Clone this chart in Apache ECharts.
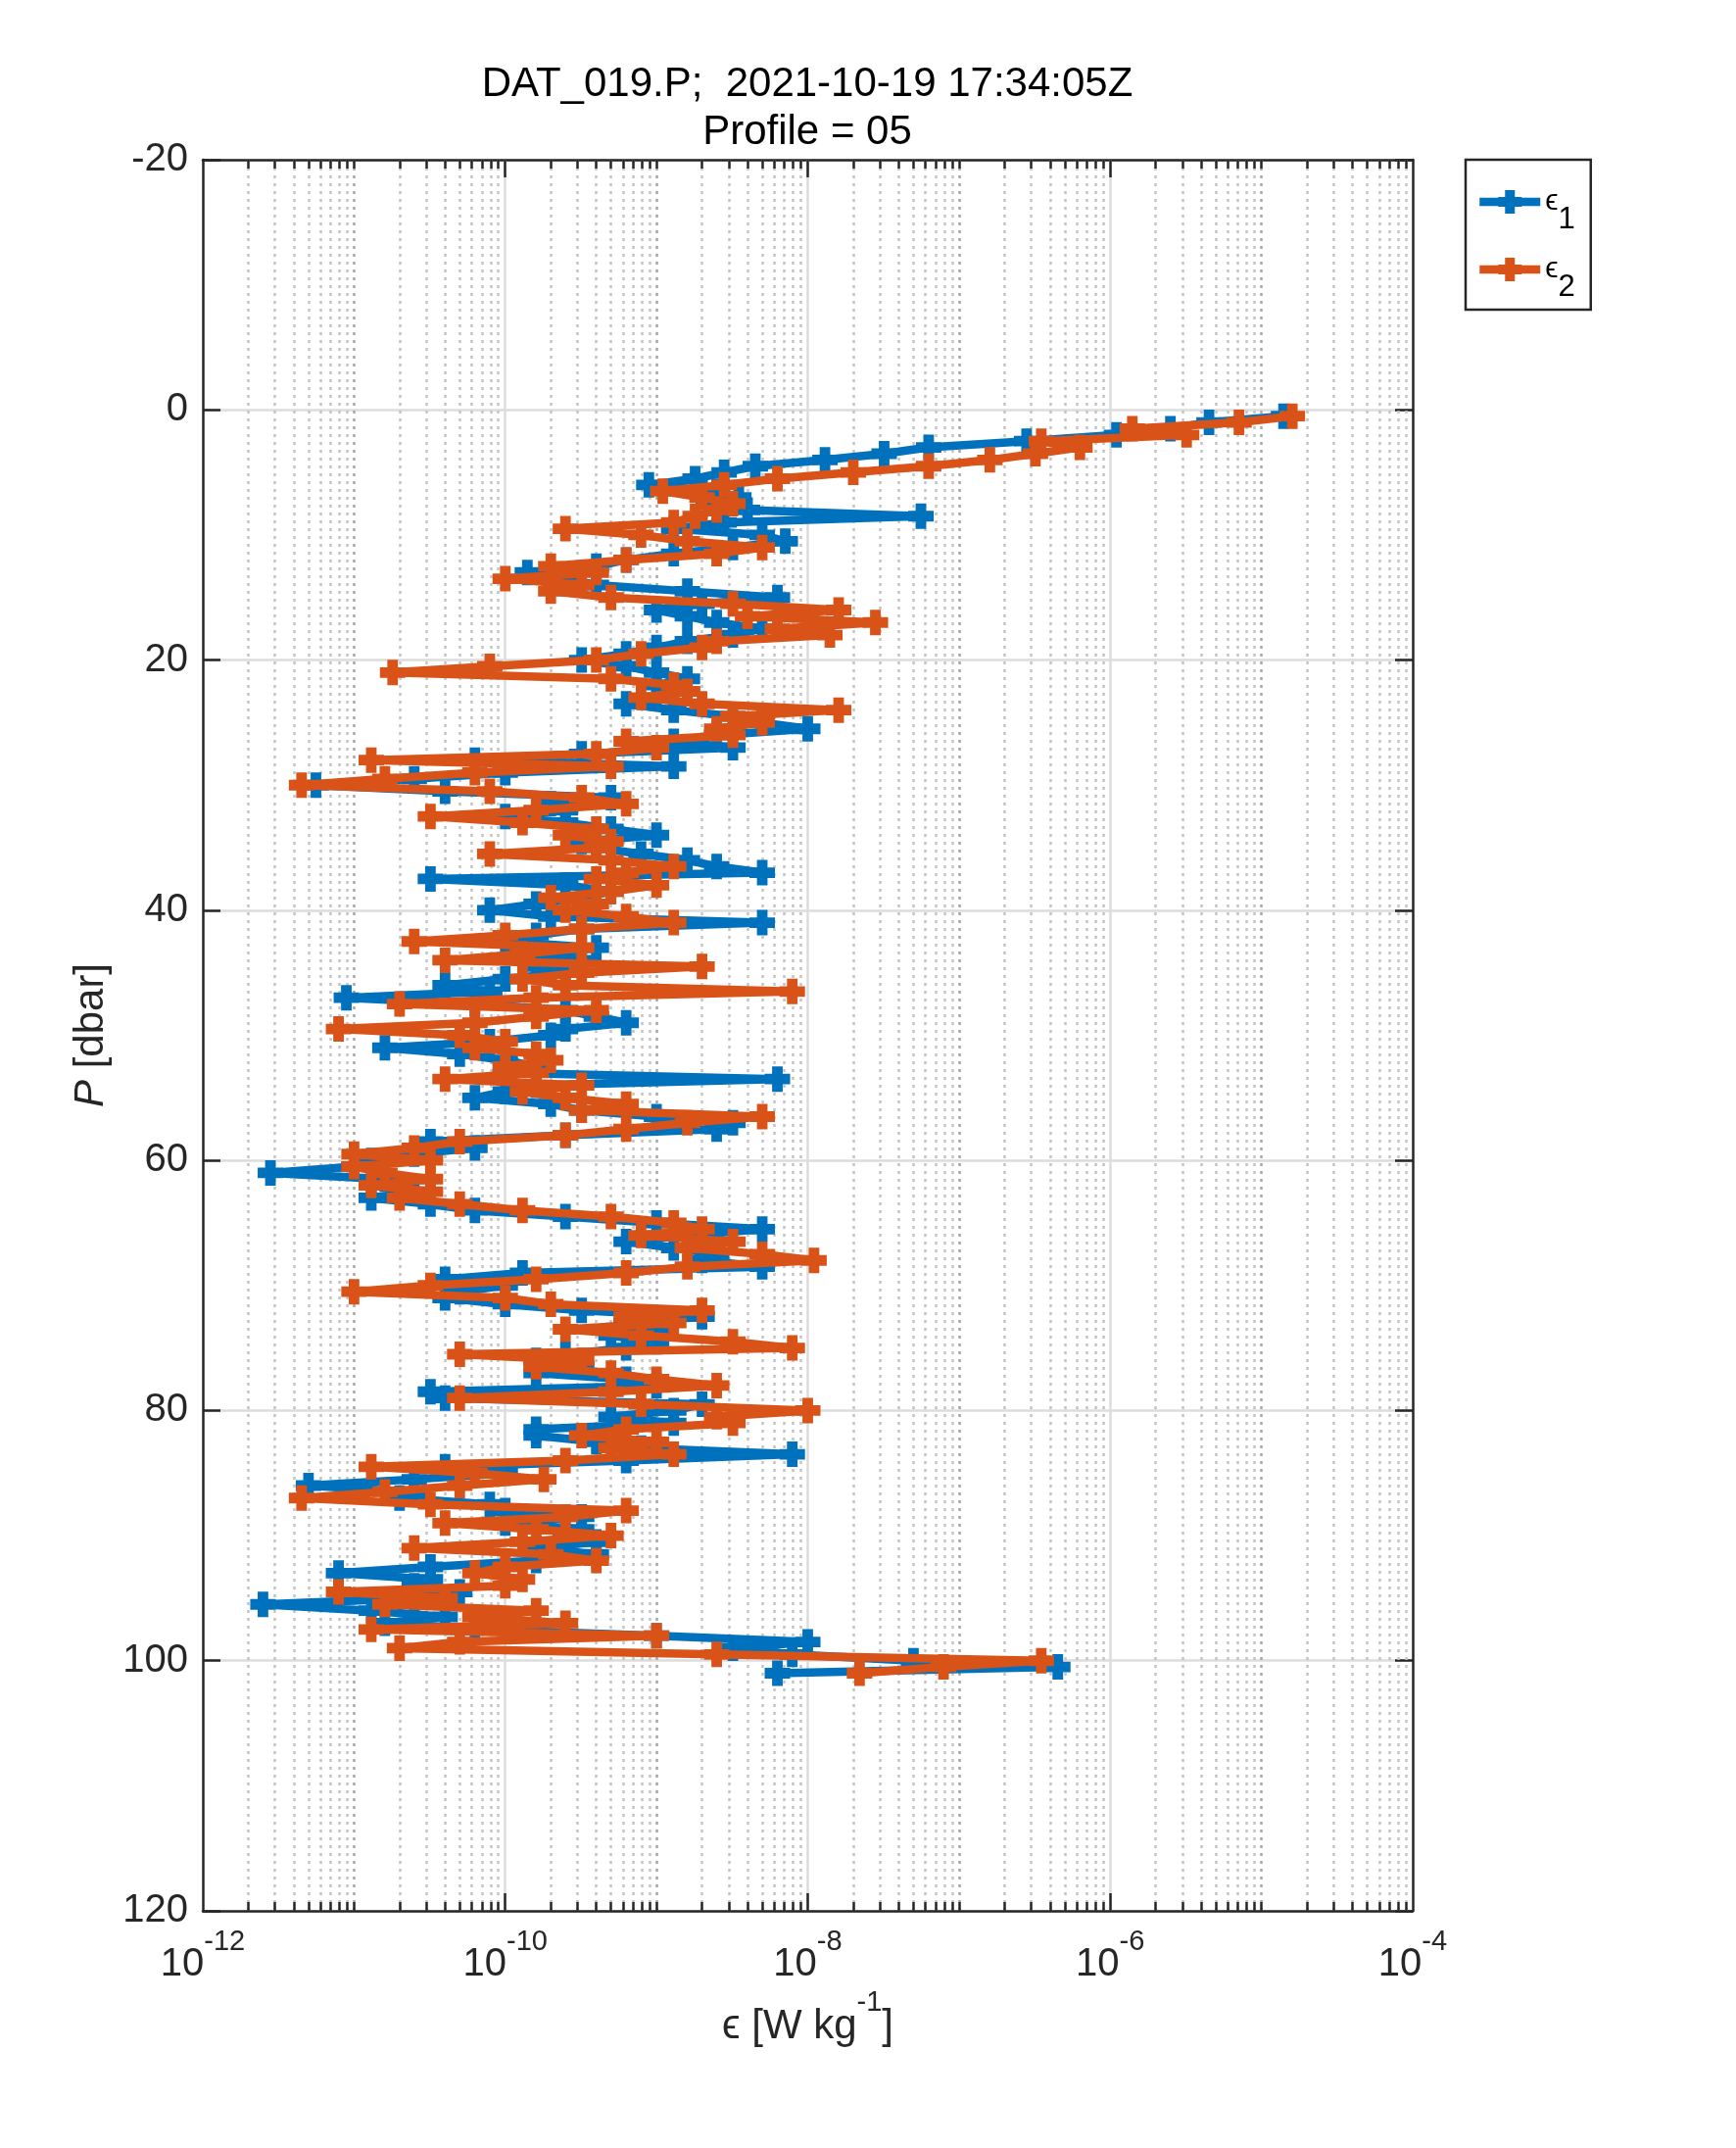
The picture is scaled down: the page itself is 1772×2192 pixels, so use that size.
<!DOCTYPE html>
<html><head><meta charset="utf-8">
<script src="https://cdn.jsdelivr.net/npm/echarts@6/dist/echarts.min.js"></script>
<style>html,body{margin:0;padding:0;background:#fff}#c{width:1772px;height:2192px}</style>
</head><body><div id="c"></div>
<script>
const pressure = [
0.5,1,1.5,2,2.5,3,3.5,4,4.5,5,
5.5,6,6.5,7,7.5,8,8.5,9,9.5,10,
10.5,11,11.5,12,12.5,13,13.5,14,14.5,15,
15.5,16,16.5,17,17.5,18,18.5,19,19.5,20,
20.5,21,21.5,22,22.5,23,23.5,24,24.5,25,
25.5,26,26.5,27,27.5,28,28.5,29,29.5,30,
30.5,31,31.5,32,32.5,33,33.5,34,34.5,35,
35.5,36,36.5,37,37.5,38,38.5,39,39.5,40,
40.5,41,41.5,42,42.5,43,43.5,44,44.5,45,
45.5,46,46.5,47,47.5,48,48.5,49,49.5,50,
50.5,51,51.5,52,52.5,53,53.5,54,54.5,55,
55.5,56,56.5,57,57.5,58,58.5,59,59.5,60,
60.5,61,61.5,62,62.5,63,63.5,64,64.5,65,
65.5,66,66.5,67,67.5,68,68.5,69,69.5,70,
70.5,71,71.5,72,72.5,73,73.5,74,74.5,75,
75.5,76,76.5,77,77.5,78,78.5,79,79.5,80,
80.5,81,81.5,82,82.5,83,83.5,84,84.5,85,
85.5,86,86.5,87,87.5,88,88.5,89,89.5,90,
90.5,91,91.5,92,92.5,93,93.5,94,94.5,95,
95.5,96,96.5,97,97.5,98,98.5,99,99.5,100,
100.5,101];

const eps1 = [
1.4e-5,4.5e-6,2.5e-6,1.1e-6,2.8e-7,6.3e-8,3.2e-8,1.3e-8,4.5e-9,2.8e-9,
1.8e-9,8.9e-10,2.5e-9,3.5e-9,2.2e-9,4e-9,5.6e-8,2.8e-9,1.3e-9,5e-9,
7.1e-9,3.2e-9,1.3e-9,6.3e-10,4e-10,1.4e-10,2.5e-10,4e-10,1.6e-9,6.3e-9,
2e-9,1e-9,1.6e-9,2.5e-9,5e-9,3.2e-9,1.6e-9,1e-9,6.3e-10,3.2e-10,
6.3e-10,1e-9,1.6e-9,1e-9,1.6e-9,1e-9,6.3e-10,1.3e-9,3.2e-9,5e-9,
1e-8,2.5e-9,1.3e-9,3.2e-9,3.2e-10,6.3e-11,1.3e-9,1e-10,2.5e-11,5.6e-12,
4e-11,5e-10,2e-10,2.5e-10,1e-10,2.5e-10,5e-10,1e-9,3.2e-10,4e-10,
7.9e-10,1.6e-9,2.5e-9,5e-9,3.2e-11,2.5e-10,5e-10,3.2e-10,1.6e-10,7.9e-11,
2e-10,5e-9,3.2e-10,1.6e-10,1e-10,4e-10,2e-10,3.2e-10,1.6e-10,2.5e-10,
1e-10,4e-11,7.9e-11,8.9e-12,6.3e-11,2.5e-10,4e-10,6.3e-10,2.5e-10,2e-10,
7.9e-11,1.6e-11,5e-11,1e-10,1.6e-10,1e-10,6.3e-9,1.6e-10,1e-10,6.3e-11,
2e-10,3.2e-10,1e-9,3.2e-9,2.5e-9,2.5e-10,3.2e-11,6.3e-11,2.5e-11,1.3e-11,
1e-11,2.8e-12,1.6e-11,1.3e-11,2.5e-11,1.3e-11,3.2e-11,6.3e-11,2.5e-10,1e-9,
5e-9,1.6e-9,6.3e-10,1.3e-9,2.5e-9,2e-9,5e-9,1.3e-10,4e-11,1e-10,
5e-11,4e-11,1e-10,3.2e-10,2e-9,6.3e-10,1e-9,5e-10,1e-9,6.3e-10,
2.5e-10,1.6e-10,3.2e-10,1.6e-10,6.3e-10,1e-9,3.2e-11,4e-11,2e-9,1.3e-9,
5e-10,1.3e-9,1.6e-10,1.6e-10,4e-10,7.9e-10,7.9e-9,6.3e-10,4e-11,1e-10,
2.5e-11,5e-12,2.5e-11,2e-11,7.9e-11,1e-10,3.2e-10,1e-10,3.2e-10,2.5e-10,
4e-10,1.6e-10,4e-10,1.6e-10,3.2e-11,7.9e-12,3.2e-11,2.5e-11,5e-11,2.5e-11,
2.5e-12,1.3e-11,4e-11,1.6e-11,6.3e-11,1e-9,1e-8,3.2e-9,7.9e-9,5e-8,
4.5e-7,6.3e-9];

const eps2 = [
1.6e-5,7.1e-6,1.4e-6,3.2e-6,3.5e-7,6.3e-7,3.2e-7,1.6e-7,6.3e-8,2e-8,
6.3e-9,2.8e-9,1.1e-9,2e-9,3.2e-9,2.5e-9,1.8e-9,1.3e-9,2.5e-10,7.9e-10,
1.6e-9,5e-9,2.5e-9,6.3e-10,2e-10,4e-10,1e-10,3.2e-10,2e-10,5e-10,
3.2e-9,1.6e-8,4e-9,2.8e-8,6.3e-9,1.4e-8,2.5e-9,2e-9,7.9e-10,4e-10,
7.9e-11,1.8e-11,5e-10,1.3e-9,1.6e-9,7.9e-10,2e-9,1.6e-8,3.2e-9,5e-9,
2.5e-9,3.2e-9,6.3e-10,1e-9,4e-10,1.3e-11,5e-10,6.3e-11,1.6e-11,4.5e-12,
7.9e-11,3.2e-10,6.3e-10,1.6e-10,3.2e-11,1.3e-10,4e-10,2.5e-10,5e-10,4e-10,
7.9e-11,5e-10,1.3e-9,6.3e-10,4e-10,1e-9,5e-10,2e-10,4e-10,2.5e-10,
6.3e-10,1.3e-9,3.2e-10,1e-10,2.5e-11,3.2e-10,1.3e-10,4e-11,2e-9,3.2e-10,
1.3e-10,2.5e-10,7.9e-9,1.6e-10,2e-11,4e-10,1.6e-10,6.3e-11,7.9e-12,5e-11,
1e-10,6.3e-11,1.6e-10,2e-10,1e-10,1.6e-10,4e-11,3.2e-10,1.3e-10,2.5e-10,
6.3e-10,3.2e-10,5e-9,1.6e-9,6.3e-10,2.5e-10,5e-11,2.5e-11,1e-11,3.2e-11,
1e-11,1.6e-11,3.2e-11,1.3e-11,3.2e-11,2e-11,5e-11,1.3e-10,5e-10,1.3e-9,
2e-9,7.9e-10,3.2e-9,1.6e-9,5e-9,1.1e-8,1.6e-9,6.3e-10,1.6e-10,3.2e-11,
1e-11,1e-10,2e-10,2e-9,6.3e-10,1.3e-9,2.5e-10,7.9e-10,3.2e-9,7.9e-9,
5e-11,3.2e-10,1.6e-10,5e-10,1e-9,2.5e-9,5e-10,5e-11,7.9e-10,1e-8,
2.5e-9,3.2e-9,6.3e-10,3.2e-10,1e-9,5e-10,1.3e-9,2.5e-10,1.3e-11,6.3e-11,
1.8e-10,5e-11,1.6e-11,4.5e-12,3.2e-11,6.3e-10,2.5e-10,4e-11,1.6e-10,5e-10,
1.3e-10,2.5e-11,2e-10,4e-10,1e-10,6.3e-11,1.3e-10,1e-10,7.9e-12,4e-11,
1.6e-11,1.6e-10,6.3e-11,2.5e-10,1.3e-11,1e-9,5e-11,2e-11,2.5e-9,3.5e-7,
7.9e-8,2.2e-8];

const seriesNames = ['eps1', 'eps2'];
const legendLabels = ['{e|ϵ}{s|1}', '{e|ϵ}{s|2}'];
const titleLines = ['DAT_019.P;  2021-10-19 17:34:05Z', 'Profile = 05'];
const xDecades = [-12, -11, -10, -9, -8, -7, -6, -5, -4];
const yTicks = [-20, 0, 20, 40, 60, 80, 100, 120];

const FONT = '"Liberation Sans", Arial, Helvetica, sans-serif';
const AX = '#262626';
const C1 = '#0072BD', C2 = '#D95319';
const PLUS = 'path://M7,0h10v7h7v10h-7v7h-10v-7h-7v-10h7z';
const yMin = yTicks[0], yMax = yTicks[yTicks.length - 1];

// vertical grid + x tick marks (MATLAB-style log minor grid)
const gridData = [], tickData = [];
const pxPerDbar = 1787 / (yMax - yMin);
const tickMajLen = 18 / pxPerDbar, tickMinLen = 9 / pxPerDbar;
for (let i = 0; i < xDecades.length - 1; i++) {
  const e = xDecades[i];
  for (let m = 1; m <= 9; m++) {
    const v = m * Math.pow(10, e);
    const isMajor = (m === 1 && e % 2 === 0);
    if (m === 1 && e === xDecades[0]) continue;
    const gs = isMajor
      ? {color: '#dcdcdc', width: 2.5, type: 'solid'}
      : {color: m === 1 ? '#a6a6a6' : '#c4c4c4', width: 2.5, type: [3, 5]};
    gridData.push([{coord: [v, yMin], lineStyle: gs}, {coord: [v, yMax]}]);
    const len = isMajor ? tickMajLen : tickMinLen;
    const ts = {color: AX, width: 2.5, type: 'solid'};
    tickData.push([{coord: [v, yMax], lineStyle: ts}, {coord: [v, yMax - len]}]);
    tickData.push([{coord: [v, yMin], lineStyle: ts}, {coord: [v, yMin + len]}]);
  }
}

const chart = echarts.init(document.getElementById('c'), null, {renderer: 'canvas'});
const mk = (arr) => arr.map((v, i) => [v, pressure[i]]);

chart.setOption({
  animation: false,
  backgroundColor: '#fff',
  textStyle: {fontFamily: FONT},
  title: {
    text: titleLines.join('\n'),
    left: 824, top: 62, textAlign: 'center', padding: 0,
    textStyle: {fontSize: 42, fontWeight: 'normal', color: '#000', fontFamily: FONT, lineHeight: 49}
  },
  grid: {left: 207, right: 330, top: 163, bottom: 242, containLabel: false},
  legend: {
    data: seriesNames,
    orient: 'vertical',
    left: 1496, top: 163,
    padding: [28, 16, 7, 10],
    itemWidth: 62, itemHeight: 30, itemGap: 20,
    borderColor: AX, borderWidth: 2.5, borderRadius: 0,
    backgroundColor: '#fff',
    lineStyle: {width: 8.5},
    formatter: (n) => legendLabels[seriesNames.indexOf(n)],
    textStyle: {
      color: '#000', fontFamily: FONT,
      rich: {
        e: {fontSize: 30, lineHeight: 68, verticalAlign: 'middle', color: '#000', fontFamily: FONT},
        s: {fontSize: 31, lineHeight: 32, verticalAlign: 'bottom', color: '#000', fontFamily: FONT}
      }
    }
  },
  xAxis: [{
    type: 'log', logBase: 10, min: 1e-12, max: 1e-4, position: 'bottom',
    axisLine: {show: true, onZero: false, lineStyle: {color: AX, width: 2.5}},
    axisTick: {show: false}, splitLine: {show: false},
    axisLabel: {
      margin: 17, color: AX,
      formatter: (v) => { const e = Math.round(Math.log10(v)); return (e % 2 === 0) ? '{b|10}{p|' + e + '}' : ''; },
      rich: {
        b: {fontSize: 40, lineHeight: 58, verticalAlign: 'bottom', color: AX, fontFamily: FONT},
        p: {fontSize: 29, lineHeight: 29, verticalAlign: 'top', color: AX, fontFamily: FONT}
      }
    },
    name: '{t|ϵ [W kg}{s|-1}{t|]}', nameLocation: 'middle', nameGap: 78,
    nameTextStyle: {
      rich: {
        t: {fontSize: 42, lineHeight: 60, verticalAlign: 'bottom', color: AX, fontFamily: FONT},
        s: {fontSize: 29, lineHeight: 29, verticalAlign: 'top', color: AX, fontFamily: FONT}
      }
    }
  }, {
    type: 'log', logBase: 10, min: 1e-12, max: 1e-4, position: 'top',
    axisLine: {show: true, onZero: false, lineStyle: {color: AX, width: 2.5}},
    axisTick: {show: false}, axisLabel: {show: false}, splitLine: {show: false}
  }],
  yAxis: [{
    type: 'value', inverse: true, min: yMin, max: yMax, interval: 20, position: 'left',
    axisLine: {show: true, onZero: false, lineStyle: {color: AX, width: 2.5}},
    axisTick: {show: true, inside: true, length: 18, lineStyle: {color: AX, width: 2.5}},
    axisLabel: {margin: 15, fontSize: 40, color: AX, fontFamily: FONT},
    splitLine: {show: true, lineStyle: {color: '#dcdcdc', width: 2.5}},
    name: '{i|P} [dbar]', nameLocation: 'middle', nameGap: 86,
    nameTextStyle: {fontSize: 42, color: AX, fontFamily: FONT,
      rich: {i: {fontStyle: 'italic', fontSize: 42, color: AX, fontFamily: FONT}}}
  }, {
    type: 'value', inverse: true, min: yMin, max: yMax, interval: 20, position: 'right',
    axisLine: {show: true, onZero: false, lineStyle: {color: AX, width: 2.5}},
    axisTick: {show: true, inside: true, length: 18, lineStyle: {color: AX, width: 2.5}},
    axisLabel: {show: false}, splitLine: {show: false}
  }],
  series: [{
    type: 'line', name: 'grid', data: [], z: 1, silent: true, symbol: 'none',
    markLine: {z: 1, silent: true, symbol: ['none', 'none'], label: {show: false}, animation: false, data: gridData}
  }, {
    type: 'line', name: 'ticks', data: [], z: 1, silent: true, symbol: 'none',
    markLine: {z: 6, silent: true, symbol: ['none', 'none'], label: {show: false}, animation: false, data: tickData}
  }, {
    type: 'line', name: seriesNames[0], data: mk(eps1), z: 3,
    symbol: PLUS, symbolSize: 26, showSymbol: true,
    lineStyle: {color: C1, width: 8.5}, itemStyle: {color: C1}
  }, {
    type: 'line', name: seriesNames[1], data: mk(eps2), z: 4,
    symbol: PLUS, symbolSize: 26, showSymbol: true,
    lineStyle: {color: C2, width: 8.5}, itemStyle: {color: C2}
  }]
});
</script></body></html>
